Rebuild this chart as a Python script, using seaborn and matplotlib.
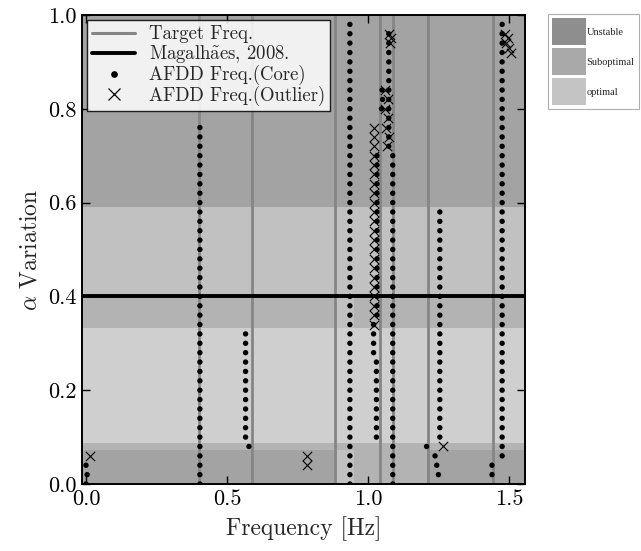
import numpy as np
import pandas as pd
import matplotlib
matplotlib.use("Agg")
import matplotlib.pyplot as plt
from matplotlib.colors import ListedColormap, BoundaryNorm
from matplotlib.lines import Line2D
from matplotlib.patches import Patch
import seaborn as sns

# ---------------- data ----------------
target_freq = [0.400, 0.590, 0.883, 1.043, 1.090, 1.212, 1.443]
magalhaes_alpha = 0.40

# stability map (rows: alpha bands bottom->top, cols: frequency bands)
alpha_edges = [0.0, 0.072, 0.088, 0.333, 0.400, 0.590, 1.0]
freq_edges = [-0.02, 0.880, 0.950, 1.210, 1.600]
stability_class = [
    [0, 2, 1, 0],
    [1, 1, 1, 1],
    [3, 3, 3, 3],
    [1, 2, 1, 1],
    [2, 2, 2, 2],
    [0, 0, 0, 0],
]

alpha_step = 0.02
# AFDD core columns: frequency, first alpha, last alpha
col_freq = [0.404, 0.566, 0.936, 1.030, 1.020, 1.032, 1.088, 1.074, 1.255, 1.476]
col_a0 = [0.00, 0.10, 0.00, 0.10, 0.28, 0.36, 0.00, 0.72, 0.10, 0.06]
col_a1 = [0.76, 0.32, 0.98, 0.26, 0.34, 0.70, 0.70, 0.96, 0.58, 0.98]

core_extra_freq = [0.000, 0.004, 0.000, 0.578, 1.048, 1.052, 1.050,
                   1.208, 1.238, 1.244, 1.250, 1.440, 1.440]
core_extra_alpha = [0.00, 0.02, 0.04, 0.08, 0.80, 0.82, 0.84,
                    0.08, 0.06, 0.04, 0.02, 0.04, 0.02]

# AFDD outlier column
out_col_freq = [1.022]
out_col_a0 = [0.34]
out_col_a1 = [0.76]

out_extra_freq = [0.015, 0.785, 0.785,
                  1.060, 1.070, 1.062, 1.072, 1.064, 1.074, 1.066,
                  1.075, 1.082, 1.078, 1.265,
                  1.485, 1.497, 1.490, 1.502, 1.506]
out_extra_alpha = [0.06, 0.04, 0.06,
                   0.84, 0.82, 0.80, 0.78, 0.76, 0.74, 0.72,
                   0.96, 0.95, 0.94, 0.08,
                   0.96, 0.95, 0.94, 0.93, 0.92]

class_colors = ["#a3a3a3", "#b3b3b3", "#c1c1c1", "#cfcfcf"]
legend_classes = ["Unstable", "Suboptimal", "optimal"]
legend_colors = ["#8e8e8e", "#a9a9a9", "#c4c4c4"]


def expand(freqs, a0s, a1s):
    fx, ay = [], []
    for f, a0, a1 in zip(freqs, a0s, a1s):
        n = int(round((a1 - a0) / alpha_step)) + 1
        for k in range(n):
            fx.append(f)
            ay.append(round(a0 + k * alpha_step, 3))
    return fx, ay


cf, ca = expand(col_freq, col_a0, col_a1)
core = pd.DataFrame({"freq": cf + core_extra_freq, "alpha": ca + core_extra_alpha})
of, oa = expand(out_col_freq, out_col_a0, out_col_a1)
outl = pd.DataFrame({"freq": of + out_extra_freq, "alpha": oa + out_extra_alpha})

# ---------------- style ----------------
sns.set_theme(style="ticks")
plt.rcParams["font.family"] = ["cmr10", "DejaVu Serif"]
plt.rcParams["mathtext.fontset"] = "cm"
plt.rcParams["axes.formatter.use_mathtext"] = True

fig = plt.figure(figsize=(6.41, 5.51), dpi=100)
ax = fig.add_axes([0.128, 0.1216, 0.691, 0.8512])

cmap = ListedColormap(class_colors)
norm = BoundaryNorm([-0.5, 0.5, 1.5, 2.5, 3.5], cmap.N)
ax.pcolormesh(freq_edges, alpha_edges, np.array(stability_class), cmap=cmap,
              norm=norm, shading="flat", zorder=0)

for f in target_freq:
    ax.axvline(f, color="#858585", lw=2.0, zorder=1)
ax.axhline(magalhaes_alpha, color="black", lw=2.8, zorder=2)

sns.scatterplot(data=core, x="freq", y="alpha", marker="o", s=15, color="black",
                edgecolor="none", ax=ax, zorder=4, legend=False)
sns.scatterplot(data=outl, x="freq", y="alpha", marker="x", s=45, color="black",
                linewidth=0.8, ax=ax, zorder=5, legend=False)

ax.set_xlim(-0.014, 1.557)
ax.set_ylim(0.0, 1.0)
ax.set_xticks([0.0, 0.5, 1.0, 1.5])
ax.set_yticks([0.0, 0.2, 0.4, 0.6, 0.8, 1.0])
ax.set_xticklabels(["0.0", "0.5", "1.0", "1.5"])
ax.set_yticklabels(["0.0", "0.2", "0.4", "0.6", "0.8", "1.0"])
ax.tick_params(direction="in", length=6, width=1, top=True, right=True,
               labelsize=16, colors="black", pad=4)
for sp in ax.spines.values():
    sp.set_linewidth(1.4)
    sp.set_color("black")
ax.set_xlabel("Frequency [Hz]", fontsize=17, labelpad=5)
ax.set_ylabel(r"$\alpha$ Variation", fontsize=17, labelpad=5)

handles = [
    Line2D([], [], color="#858585", lw=2.2),
    Line2D([], [], color="black", lw=2.8),
    Line2D([], [], color="black", marker="o", ls="none", markersize=3.8),
    Line2D([], [], color="black", marker="x", ls="none", markersize=8, mew=0.9),
]
labels = ["Target Freq.", r"Magalh$\tilde{\mathrm{a}}$es, 2008.",
          "AFDD Freq.(Core)", "AFDD Freq.(Outlier)"]
leg = ax.legend(handles, labels, loc="upper left", bbox_to_anchor=(0.0, 1.0),
                fontsize=13.5, frameon=True, fancybox=False, edgecolor="black",
                framealpha=0.85, borderaxespad=0.25, labelspacing=0.0,
                handlelength=2.3, handletextpad=0.7, borderpad=0.3)
leg.get_frame().set_linewidth(1.0)
leg.set_zorder(10)

patches = [Patch(facecolor=c, edgecolor="none") for c in legend_colors]
fleg = fig.legend(patches, legend_classes, loc="upper left",
                  bbox_to_anchor=(548 / 641, 1 - 14 / 551),
                  prop={"family": "Liberation Serif", "size": 7.5},
                  frameon=True, fancybox=False, edgecolor="#9a9a9a",
                  handlelength=3.2, handleheight=3.6, labelspacing=0.3,
                  handletextpad=0.1, borderpad=0.4, borderaxespad=0.0)
fleg.get_frame().set_linewidth(0.8)

fig.savefig("out.png", dpi=100, facecolor="white")
